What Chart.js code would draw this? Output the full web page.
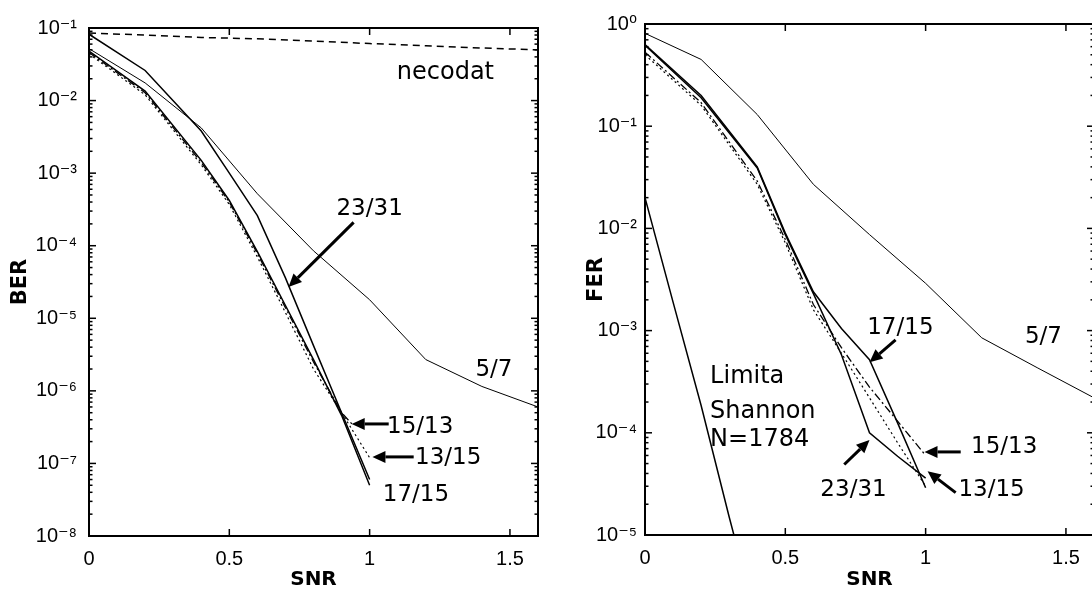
<!DOCTYPE html>
<html><head><meta charset="utf-8">
<script src="https://cdn.jsdelivr.net/npm/chart.js@4/dist/chart.umd.min.js"></script>
<style>
html,body{margin:0;padding:0;background:#fff;overflow:hidden;width:1092px;height:601px;position:relative;}
#c1{position:absolute;left:0;top:0;}
#c2{position:absolute;left:560px;top:0;}
</style></head><body>
<canvas id="c1" width="546" height="601"></canvas>
<canvas id="c2" width="540" height="601"></canvas>
<script>
// ---------- data ----------
const snrWide = [0, 0.2, 0.4, 0.6, 0.8, 1.0, 1.2, 1.4, 1.6];
const snrFine = [0, 0.2, 0.4, 0.5, 0.6, 0.7, 0.8, 0.9, 1.0];
const snr1513 = [0, 0.2, 0.4, 0.5, 0.6, 0.7, 0.8, 0.9, 0.94];
const snrShannon = [0, 0.1, 0.2, 0.3, 0.35];

// BER (left panel)
const berUncoded = [0.085, 0.080, 0.074, 0.071, 0.066, 0.061, 0.057, 0.053, 0.050];
const ber57   = [0.052, 0.0175, 0.0042, 5.2e-4, 8.5e-5, 1.8e-5, 2.7e-6, 1.15e-6, 6.0e-7];
const ber2331 = [0.082, 0.026, 0.0038, 1.0e-3, 2.6e-4, 3.6e-5, 4.2e-6, 5.0e-7, 6.0e-8];
const ber1715 = [0.048, 0.0135, 1.5e-3, 4.2e-4, 8.3e-5, 1.5e-5, 2.7e-6, 4.6e-7, 5.0e-8];
const ber1513 = [0.046, 0.0128, 1.4e-3, 4.0e-4, 7.8e-5, 1.4e-5, 2.5e-6, 5.0e-7, 3.4e-7];
const ber1315 = [0.044, 0.012, 1.3e-3, 3.7e-4, 7.0e-5, 1.2e-5, 2.0e-6, 5.0e-7, 1.2e-7];

// FER (right panel)
const fer57   = [0.81, 0.45, 0.13, 0.027, 8.7e-3, 2.9e-3, 8.5e-4, 4.3e-4, 2.2e-4];
const fer2331 = [0.62, 0.19, 0.039, 8.7e-3, 2.3e-3, 5.8e-4, 1.0e-4, 5.9e-5, 3.6e-5];
const fer1715 = [0.63, 0.20, 0.040, 9.0e-3, 2.4e-3, 1.05e-3, 5.2e-4, 1.25e-4, 2.9e-5];
const fer1513 = [0.53, 0.17, 0.029, 7.8e-3, 1.8e-3, 6.8e-4, 2.8e-4, 1.3e-4, 6.0e-5];
const fer1315 = [0.50, 0.16, 0.027, 7.2e-3, 1.6e-3, 6.0e-4, 2.2e-4, 8.0e-5, 3.0e-5];
const ferShannon = [0.020, 1.9e-3, 1.85e-4, 1.5e-5, 4.5e-6];

// ticks
const xTickValues = [0, 0.5, 1, 1.5];
const xTickLabels = ['0', '0.5', '1', '1.5'];
const berTickValues = [1e-8, 1e-7, 1e-6, 1e-5, 1e-4, 1e-3, 1e-2, 1e-1];
const berTickLabels = ['10⁻⁸', '10⁻⁷', '10⁻⁶', '10⁻⁵', '10⁻⁴', '10⁻³', '10⁻²', '10⁻¹'];
const ferTickValues = [1e-5, 1e-4, 1e-3, 1e-2, 1e-1, 1];
const ferTickLabels = ['10⁻⁵', '10⁻⁴', '10⁻³', '10⁻²', '10⁻¹', '10⁰'];

// annotations (data coordinates)
const berTexts = [
  {text: 'necodat', x: 1.27, y: 0.024, size: 24},
  {text: '23/31', x: 1.0, y: 3.2e-4, size: 23},
  {text: '5/7', x: 1.443, y: 1.95e-6, size: 23},
  {text: '15/13', x: 1.18, y: 3.2e-7, size: 23},
  {text: '13/15', x: 1.28, y: 1.2e-7, size: 23},
  {text: '17/15', x: 1.165, y: 3.7e-8, size: 23}
];
const berArrows = [
  {x1: 0.943, y1: 2.1e-4, x2: 0.711, y2: 2.7e-5},
  {x1: 1.068, y1: 3.5e-7, x2: 0.936, y2: 3.5e-7},
  {x1: 1.157, y1: 1.23e-7, x2: 1.01, y2: 1.23e-7}
];
const ferTexts = [
  {text: '17/15', x: 0.91, y: 1.07e-3, size: 23},
  {text: '5/7', x: 1.42, y: 8.7e-4, size: 23},
  {text: '15/13', x: 1.28, y: 7.2e-5, size: 23},
  {text: '13/15', x: 1.235, y: 2.75e-5, size: 23},
  {text: '23/31', x: 0.743, y: 2.75e-5, size: 23},
  {text: 'Limita', x: 0.232, y: 3.5e-4, size: 24, align: 'left'},
  {text: 'Shannon', x: 0.232, y: 1.6e-4, size: 24, align: 'left'},
  {text: 'N=1784', x: 0.232, y: 8.5e-5, size: 24, align: 'left'}
];
const ferArrows = [
  {x1: 0.893, y1: 8.1e-4, x2: 0.80, y2: 4.9e-4},
  {x1: 1.125, y1: 6.5e-5, x2: 0.996, y2: 6.5e-5},
  {x1: 1.107, y1: 2.6e-5, x2: 1.007, y2: 4.2e-5},
  {x1: 0.71, y1: 4.9e-5, x2: 0.80, y2: 8.5e-5}
];

// ---------- helpers ----------
const TEXT_FONT = '"DejaVu Sans", Verdana, sans-serif';
const TICK_FONT = '"Liberation Sans", Arial, "DejaVu Sans", sans-serif';
const pts = (xs, ys) => xs.map((x, i) => ({x, y: ys[i]}));
const ds = (label, xs, ys, width, dash) => ({
  label, data: pts(xs, ys), borderColor: '#000', backgroundColor: '#000',
  borderWidth: width, borderDash: dash || [], pointRadius: 0, tension: 0, fill: false
});

function drawArrow(ctx, x1, y1, x2, y2) {
  const ang = Math.atan2(y2 - y1, x2 - x1);
  const head = 13, hw = 6;
  const bx = x2 - head * Math.cos(ang), by = y2 - head * Math.sin(ang);
  ctx.lineWidth = 3;
  ctx.beginPath(); ctx.moveTo(x1, y1); ctx.lineTo(bx, by); ctx.stroke();
  ctx.beginPath();
  ctx.moveTo(x2, y2);
  ctx.lineTo(bx + hw * Math.sin(ang), by - hw * Math.cos(ang));
  ctx.lineTo(bx - hw * Math.sin(ang), by + hw * Math.cos(ang));
  ctx.closePath(); ctx.fill();
}

const framePlugin = {
  id: 'frame',
  afterDatasetsDraw(chart) {
    const {ctx, chartArea: a, scales: {x, y}} = chart;
    ctx.save();
    ctx.strokeStyle = '#000';
    ctx.lineWidth = 1.5;
    const seg = (ax, ay, bx, by) => { ctx.beginPath(); ctx.moveTo(ax, ay); ctx.lineTo(bx, by); ctx.stroke(); };
    x.ticks.forEach(t => {
      const px = x.getPixelForValue(t.value);
      seg(px, a.bottom, px, a.bottom - 7);
      seg(px, a.top, px, a.top + 7);
    });
    const lo = Math.round(Math.log10(y.min)), hi = Math.round(Math.log10(y.max));
    for (let e = lo; e < hi; e++) {
      for (let k = 1; k < 10; k++) {
        const py = y.getPixelForValue(k * Math.pow(10, e));
        const len = k === 1 ? 7 : 3.5;
        seg(a.left, py, a.left + len, py);
        seg(a.right, py, a.right - len, py);
      }
    }
    ctx.lineWidth = 2;
    ctx.strokeRect(a.left, a.top, a.right - a.left, a.bottom - a.top);
    ctx.restore();
  }
};

const notesPlugin = {
  id: 'notes',
  afterDatasetsDraw(chart, args, opts) {
    const {ctx, scales: {x, y}} = chart;
    ctx.save();
    ctx.fillStyle = '#000'; ctx.strokeStyle = '#000';
    (opts.texts || []).forEach(t => {
      ctx.font = t.size + 'px ' + TEXT_FONT;
      ctx.textAlign = t.align || 'center';
      ctx.textBaseline = 'middle';
      ctx.fillText(t.text, x.getPixelForValue(t.x), y.getPixelForValue(t.y));
    });
    (opts.arrows || []).forEach(r => drawArrow(ctx,
      x.getPixelForValue(r.x1), y.getPixelForValue(r.y1),
      x.getPixelForValue(r.x2), y.getPixelForValue(r.y2)));
    ctx.restore();
  }
};

function makeChart(id, cfg) {
  return new Chart(document.getElementById(id), {
    type: 'line',
    data: {datasets: cfg.datasets},
    options: {
      responsive: false, animation: false, devicePixelRatio: 1,
      layout: {padding: {top: cfg.padTop, right: cfg.padRight, left: 0, bottom: 0}},
      plugins: {legend: {display: false}, tooltip: {enabled: false},
        notes: {texts: cfg.texts, arrows: cfg.arrows}},
      scales: {
        x: {
          type: 'linear', min: 0, max: 1.6,
          afterBuildTicks: s => { s.ticks = xTickValues.map(v => ({value: v})); },
          afterFit: s => { s.height = cfg.xHeight; },
          grid: {display: false, drawTicks: false},
          border: {display: false},
          ticks: {autoSkip: false, maxRotation: 0, padding: 11, color: '#000',
            font: {family: TICK_FONT, size: 20},
            callback: (v, i) => xTickLabels[i]},
          title: {display: true, text: 'SNR', color: '#000',
            font: {family: TEXT_FONT, size: 20, weight: 'bold'}, padding: {top: 0, bottom: 9}}
        },
        y: {
          type: 'logarithmic', min: cfg.yMin, max: cfg.yMax,
          afterBuildTicks: s => { s.ticks = cfg.yTickValues.map(v => ({value: v})); },
          afterFit: s => { s.width = cfg.yWidth; },
          grid: {display: false, drawTicks: false},
          border: {display: false},
          ticks: {autoSkip: false, padding: cfg.yPad, color: '#000',
            font: {family: TICK_FONT, size: 20},
            callback: (v, i) => cfg.yTickLabels[i]},
          title: {display: true, text: cfg.yTitle, color: '#000',
            font: {family: TEXT_FONT, size: 21, weight: 'bold'}, padding: {top: cfg.yTitlePad, bottom: 0}}
        }
      }
    },
    plugins: [framePlugin, notesPlugin]
  });
}

makeChart('c1', {
  datasets: [
    ds('necodat', snrWide, berUncoded, 1.5, [7, 5]),
    ds('5/7', snrWide, ber57, 1),
    ds('23/31', snrFine, ber2331, 1.5),
    ds('17/15', snrFine, ber1715, 1.5),
    ds('15/13', snr1513, ber1513, 1.3, [8, 3, 2, 3]),
    ds('13/15', snrFine, ber1315, 1.2, [2, 3])
  ],
  texts: berTexts, arrows: berArrows,
  padTop: 28, padRight: 8, xHeight: 65, yWidth: 89, yPad: 12, yTitlePad: 8,
  yMin: 1e-8, yMax: 1e-1, yTickValues: berTickValues, yTickLabels: berTickLabels, yTitle: 'BER'
});

makeChart('c2', {
  datasets: [
    ds('5/7', snrWide, fer57, 1),
    ds('23/31', snrFine, fer2331, 1.5),
    ds('17/15', snrFine, fer1715, 1.5),
    ds('15/13', snrFine, fer1513, 1.3, [8, 3, 2, 3]),
    ds('13/15', snrFine, fer1315, 1.2, [2, 3]),
    ds('Limita Shannon N=1784', snrShannon, ferShannon, 1.5)
  ],
  texts: ferTexts, arrows: ferArrows,
  padTop: 24, padRight: 6, xHeight: 66, yWidth: 85, yPad: 8, yTitlePad: 24,
  yMin: 1e-5, yMax: 1, yTickValues: ferTickValues, yTickLabels: ferTickLabels, yTitle: 'FER'
});
</script>
</body></html>
